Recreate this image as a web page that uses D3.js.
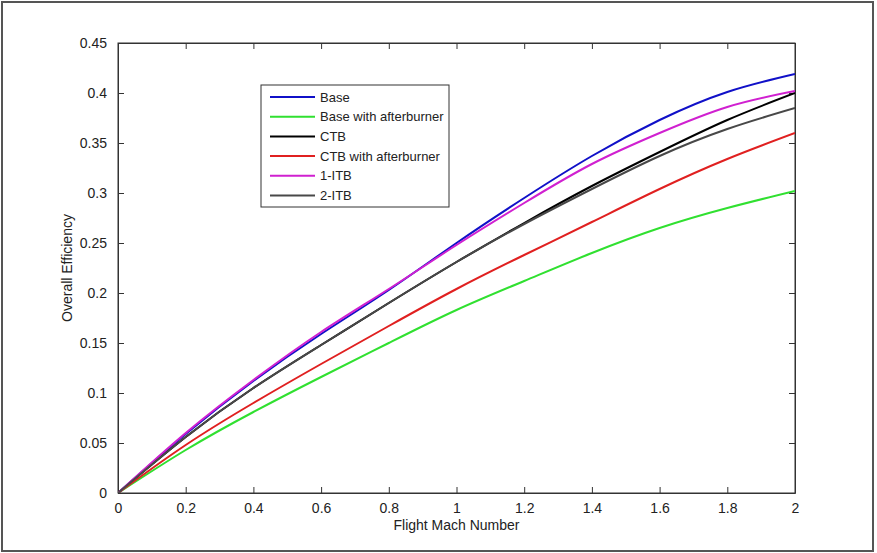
<!DOCTYPE html>
<html><head><meta charset="utf-8">
<script src="https://cdn.jsdelivr.net/npm/d3@7"></script>
<style>
body{margin:0;background:#fff;}
text{font-family:"Liberation Sans",Arial,sans-serif;fill:#222;}
</style></head>
<body><svg id="chart" width="877" height="553"></svg>
<script>
const mach = [0,0.2,0.4,0.6,0.8,1.0,1.2,1.4,1.6,1.8,2.0];
const base      = [0,0.059,0.112,0.159,0.203,0.250,0.295,0.337,0.373,0.401,0.419];
const baseAB    = [0,0.043,0.081,0.116,0.150,0.183,0.212,0.240,0.265,0.285,0.302];
const ctb       = [0,0.056,0.105,0.148,0.190,0.231,0.270,0.307,0.341,0.373,0.400];
const ctbAB     = [0,0.048,0.090,0.129,0.167,0.204,0.238,0.271,0.304,0.334,0.360];
const itb1      = [0,0.060,0.113,0.161,0.204,0.248,0.290,0.329,0.360,0.386,0.402];
const itb2      = [0,0.056,0.105,0.148,0.190,0.231,0.269,0.304,0.337,0.364,0.385];
const seriesNames = ["Base","Base with afterburner","CTB","CTB with afterburner","1-ITB","2-ITB"];
const seriesValues = [base, baseAB, ctb, ctbAB, itb1, itb2];
const xTicks = [0,0.2,0.4,0.6,0.8,1,1.2,1.4,1.6,1.8,2];
const yTicks = [0,0.05,0.1,0.15,0.2,0.25,0.3,0.35,0.4,0.45];
const colors = ["#1010c8","#30e030","#000000","#e02020","#d020d0","#484848"];

const svg = d3.select("#chart");
const L=118, R=795, T=43, B=493;
const x = d3.scaleLinear().domain([0,2]).range([L,R]);
const y = d3.scaleLinear().domain([0,0.45]).range([B,T]);

// figure border
svg.append("rect").attr("x",2).attr("y",2).attr("width",871).attr("height",549)
  .attr("fill","#fff").attr("stroke","#555").attr("stroke-width",2);

// plot box
svg.append("rect").attr("x",L).attr("y",T).attr("width",R-L).attr("height",B-T)
  .attr("fill","#fff").attr("stroke","#333").attr("stroke-width",1);

const tl = 6;
const gx = svg.append("g").attr("transform",`translate(0,${B})`)
  .call(d3.axisBottom(x).tickValues(xTicks).tickFormat(d=>String(d)).tickSizeInner(-tl).tickSizeOuter(0).tickPadding(10));
const gxt = svg.append("g").attr("transform",`translate(0,${T})`)
  .call(d3.axisTop(x).tickValues(xTicks).tickFormat("").tickSizeInner(-tl).tickSizeOuter(0));
const gy = svg.append("g").attr("transform",`translate(${L},0)`)
  .call(d3.axisLeft(y).tickValues(yTicks).tickFormat(d=>String(d)).tickSizeInner(-tl).tickSizeOuter(0).tickPadding(11));
const gyr = svg.append("g").attr("transform",`translate(${R},0)`)
  .call(d3.axisRight(y).tickValues(yTicks).tickFormat("").tickSizeInner(-tl).tickSizeOuter(0));
[gx,gxt,gy,gyr].forEach(g=>{
  g.select(".domain").attr("stroke","#333");
  g.selectAll(".tick line").attr("stroke","#333");
  g.selectAll("text").attr("font-size",14).attr("font-family","'Liberation Sans',Arial,sans-serif").attr("fill","#222");
});

const line = d3.line().x((d,i)=>x(mach[i])).y(d=>y(d)).curve(d3.curveNatural);
svg.append("clipPath").attr("id","clip").append("rect")
  .attr("x",L).attr("y",T).attr("width",R-L).attr("height",B-T);
seriesValues.forEach((vals,k)=>{
  svg.append("path").attr("d",line(vals)).attr("fill","none")
    .attr("stroke",colors[k]).attr("stroke-width",2).attr("clip-path","url(#clip)");
});

svg.append("text").attr("x",(L+R)/2).attr("y",530).attr("text-anchor","middle")
  .attr("font-size",14).text("Flight Mach Number");
svg.append("text").attr("transform",`translate(72,${(T+B)/2}) rotate(-90)`)
  .attr("text-anchor","middle").attr("font-size",14).text("Overall Efficiency");

const lg = svg.append("g");
lg.append("rect").attr("x",261).attr("y",85).attr("width",188).attr("height",122)
  .attr("fill","#fff").attr("stroke","#333").attr("stroke-width",1);
seriesNames.forEach((n,k)=>{
  const yy = 97 + k*19.7;
  lg.append("line").attr("x1",270).attr("x2",315).attr("y1",yy).attr("y2",yy)
    .attr("stroke",colors[k]).attr("stroke-width",2);
  lg.append("text").attr("x",320).attr("y",yy+4.5).attr("font-size",13).text(n);
});
</script></body></html>
